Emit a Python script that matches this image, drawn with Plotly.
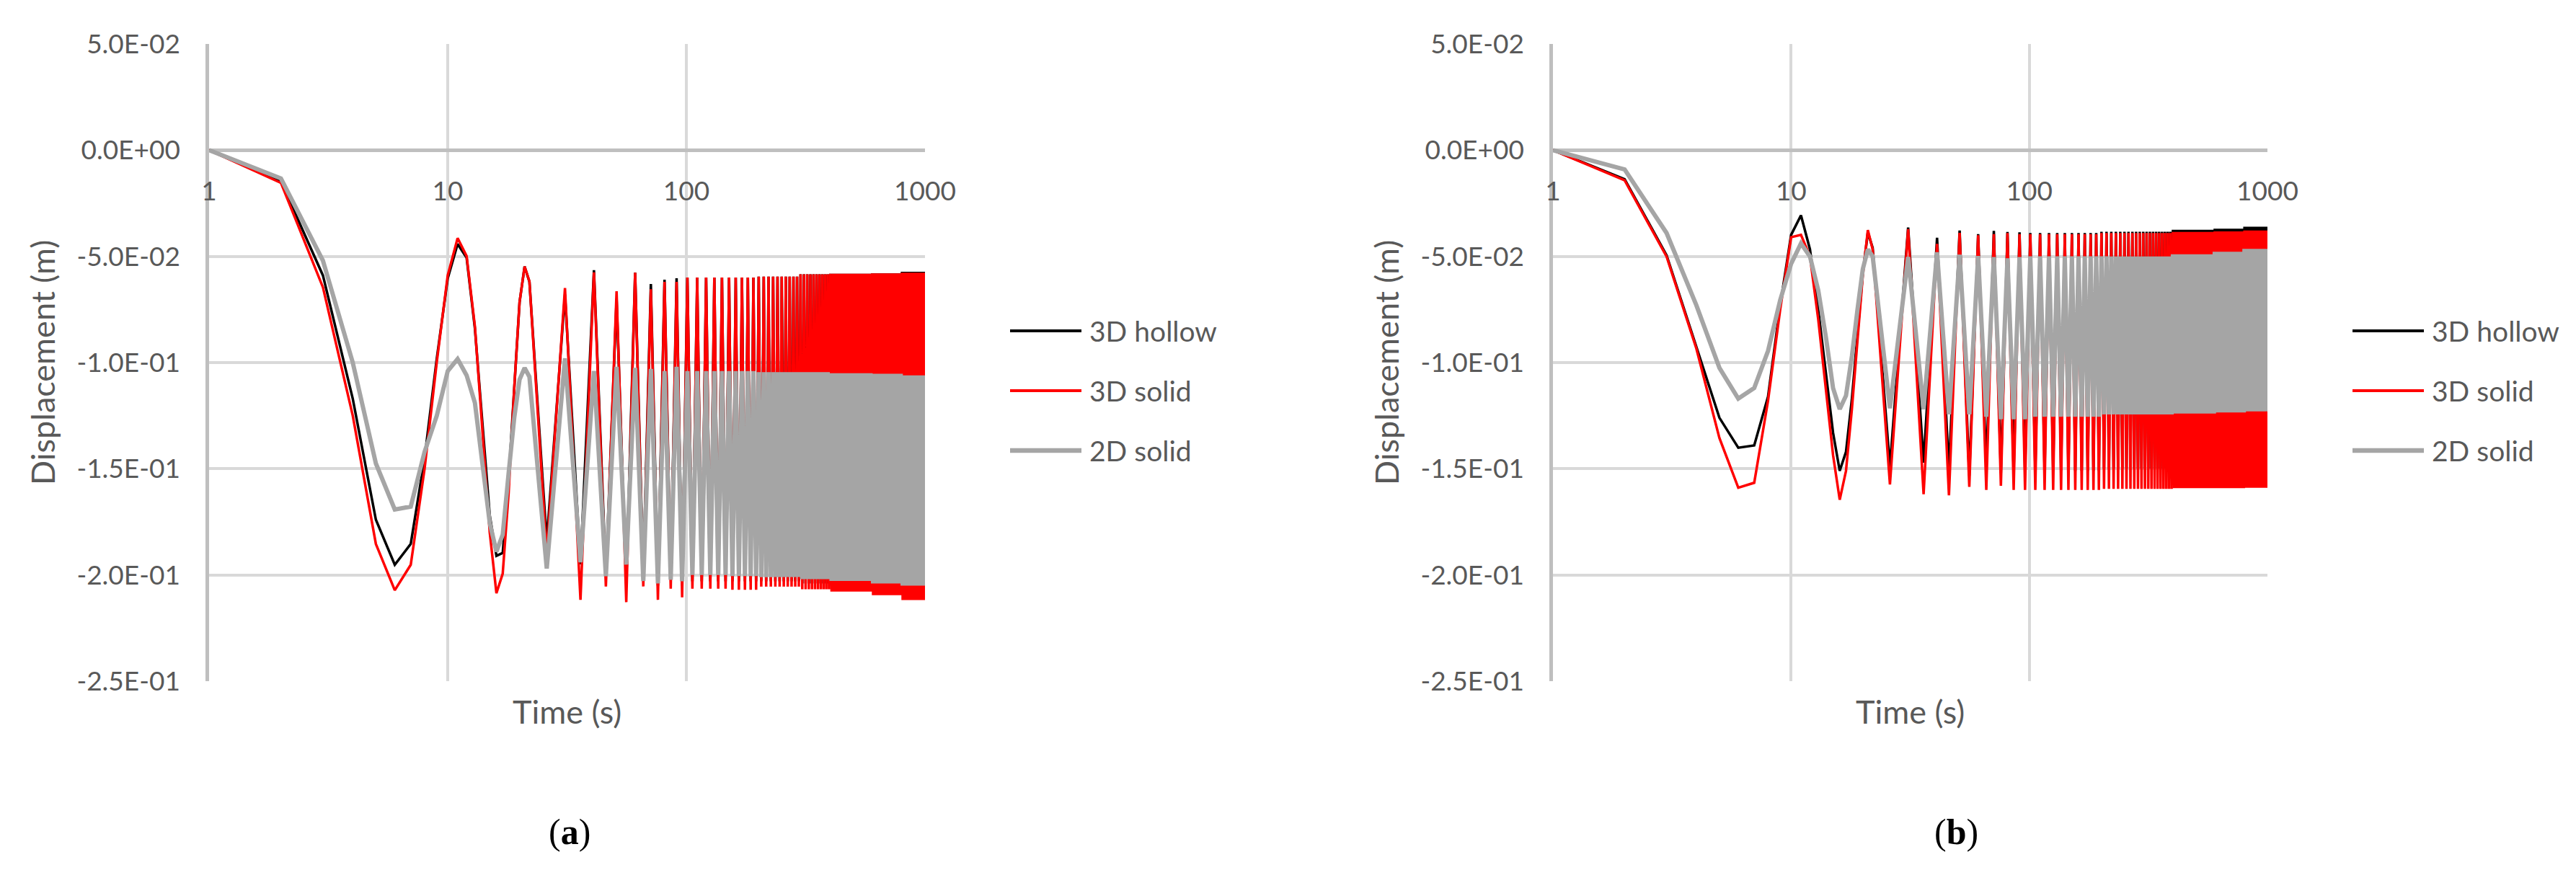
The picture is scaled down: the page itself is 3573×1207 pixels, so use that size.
import plotly.graph_objects as go

# ---------------- data ----------------
# first two cycles, one sample per second
t_early = list(range(1, 23))
# peak / trough instants of the cycles between 22 s and 100 s
t_peaks_mid = [31, 41, 51, 61, 71, 81, 91]
t_troughs_mid = [26, 36, 46, 56, 66, 76, 86, 96]
# after 100 s the cycles merge into a band; envelope read per time block
tail_blocks = [100, 150, 200, 300, 400, 600, 800, 1000]

# panel (a)
a_hollow_early = [0, -0.0147, -0.059, -0.117, -0.174, -0.1952, -0.1854, -0.145, -0.098, -0.0604, -0.0442,
                  -0.0506, -0.084, -0.130, -0.172, -0.191, -0.1896, -0.155, -0.110, -0.0716, -0.0548, -0.062]
a_hollow_troughs = [-0.184, -0.195, -0.200, -0.204, -0.200, -0.205, -0.202, -0.205]
a_hollow_peaks = [-0.068, -0.0565, -0.070, -0.0577, -0.063, -0.061, -0.0603]
a_hollow_top = [-0.0600, -0.0600, -0.0595, -0.0584, -0.0582, -0.0580, -0.0572]
a_hollow_bottom = [-0.203, -0.203, -0.203, -0.204, -0.205, -0.206, -0.208]

a_solid3d_early = [0, -0.0154, -0.0646, -0.125, -0.1854, -0.2072, -0.1952, -0.150, -0.0997, -0.059, -0.0414,
                   -0.0499, -0.083, -0.133, -0.180, -0.2086, -0.1994, -0.1615, -0.112, -0.0716, -0.0548, -0.0618]
a_solid3d_troughs = [-0.190, -0.2117, -0.2054, -0.2128, -0.2054, -0.2117, -0.2065, -0.2105]
a_solid3d_peaks = [-0.0649, -0.0575, -0.0664, -0.0577, -0.0655, -0.062, -0.062]
a_solid3d_top = [-0.0600, -0.0600, -0.0595, -0.0584, -0.0582, -0.0580, -0.0577]
a_solid3d_bottom = [-0.2065, -0.2070, -0.2055, -0.2067, -0.2078, -0.2095, -0.2118]

a_solid2d_early = [0, -0.0133, -0.052, -0.100, -0.1475, -0.1692, -0.1678, -0.142, -0.125, -0.104, -0.0983,
                   -0.106, -0.119, -0.149, -0.1755, -0.189, -0.181, -0.152, -0.126, -0.108, -0.1025, -0.1067]
a_solid2d_troughs = [-0.197, -0.194, -0.2006, -0.1951, -0.2029, -0.204, -0.2023, -0.203]
a_solid2d_peaks = [-0.098, -0.104, -0.102, -0.1025, -0.103, -0.104, -0.102]
a_solid2d_top = [-0.1040, -0.1040, -0.1045, -0.1045, -0.1050, -0.1053, -0.1060]
a_solid2d_bottom = [-0.2000, -0.2005, -0.2010, -0.2020, -0.2028, -0.2040, -0.2050]

# panel (b)
b_hollow_early = [0, -0.0137, -0.0495, -0.0923, -0.126, -0.1401, -0.139, -0.116, -0.073, -0.0399, -0.0307,
                  -0.0467, -0.075, -0.105, -0.133, -0.151, -0.142, -0.117, -0.088, -0.058, -0.0387, -0.046]
b_hollow_troughs = [-0.149, -0.1471, -0.1505, -0.1533, -0.150, -0.152, -0.151, -0.151]
b_hollow_peaks = [-0.0364, -0.0412, -0.0378, -0.0395, -0.038, -0.0385, -0.0387]
b_hollow_top = [-0.0390, -0.0390, -0.0384, -0.0384, -0.0375, -0.0370, -0.0360]
b_hollow_bottom = [-0.151, -0.151, -0.150, -0.150, -0.150, -0.149, -0.149]

b_solid3d_early = [0, -0.0142, -0.0501, -0.0934, -0.1355, -0.1589, -0.1566, -0.118, -0.075, -0.041, -0.0399,
                   -0.050, -0.0797, -0.1128, -0.1435, -0.1646, -0.151, -0.1218, -0.090, -0.059, -0.0376, -0.0467]
b_solid3d_troughs = [-0.1574, -0.162, -0.1625, -0.1585, -0.160, -0.158, -0.160, -0.160]
b_solid3d_peaks = [-0.0372, -0.0441, -0.0389, -0.040, -0.0395, -0.039, -0.0395]
b_solid3d_top = [-0.0395, -0.0395, -0.0390, -0.0390, -0.0385, -0.0382, -0.0378]
b_solid3d_bottom = [-0.1600, -0.1600, -0.1595, -0.1595, -0.1591, -0.1591, -0.1590]

b_solid2d_early = [0, -0.0091, -0.039, -0.073, -0.1025, -0.117, -0.112, -0.0945, -0.0706, -0.0535, -0.0439,
                   -0.050, -0.066, -0.088, -0.112, -0.1219, -0.1156, -0.097, -0.075, -0.056, -0.0467, -0.050]
b_solid2d_troughs = [-0.1215, -0.122, -0.1244, -0.1244, -0.1255, -0.1267, -0.1267, -0.1267]
b_solid2d_peaks = [-0.0503, -0.0481, -0.0492, -0.0498, -0.0503, -0.0509, -0.0503]
b_solid2d_top = [-0.0500, -0.0500, -0.0500, -0.0500, -0.0490, -0.0478, -0.0465]
b_solid2d_bottom = [-0.1255, -0.1255, -0.1244, -0.1244, -0.1240, -0.1235, -0.1230]

series_names = ["3D hollow", "3D solid", "2D solid"]
series_colors = ["#000000", "#FF0000", "#A5A5A5"]
series_widths = [3.5, 3.5, 6]

y_tickvals = [0.05, 0, -0.05, -0.1, -0.15, -0.2, -0.25]
y_ticktext = ["5.0E-02", "0.0E+00", "-5.0E-02", "-1.0E-01", "-1.5E-01", "-2.0E-01", "-2.5E-01"]
x_tickvals = [1, 10, 100, 1000]


def build_series(early, troughs, peaks, top, bottom):
    t = list(t_early)
    y = list(early)
    for i, tt in enumerate(t_troughs_mid):
        t.append(tt)
        y.append(troughs[i])
        if i < len(t_peaks_mid):
            t.append(t_peaks_mid[i])
            y.append(peaks[i])
    for p in range(101, 1000, 10):
        j = max(i for i in range(len(top)) if tail_blocks[i] <= p)
        t += [p, p + 5]
        y += [top[j], bottom[j]]
    return t, y


panels = [
    [(a_hollow_early, a_hollow_troughs, a_hollow_peaks, a_hollow_top, a_hollow_bottom),
     (a_solid3d_early, a_solid3d_troughs, a_solid3d_peaks, a_solid3d_top, a_solid3d_bottom),
     (a_solid2d_early, a_solid2d_troughs, a_solid2d_peaks, a_solid2d_top, a_solid2d_bottom)],
    [(b_hollow_early, b_hollow_troughs, b_hollow_peaks, b_hollow_top, b_hollow_bottom),
     (b_solid3d_early, b_solid3d_troughs, b_solid3d_peaks, b_solid3d_top, b_solid3d_bottom),
     (b_solid2d_early, b_solid2d_troughs, b_solid2d_peaks, b_solid2d_top, b_solid2d_bottom)],
]

W, H = 3573, 1207
x_domains = [[282 / W, 1275 / W], [2146 / W, 3137 / W]]
y_domain = [1 - 937 / H, 1 - 53 / H]
captions = ["a", "b"]
caption_x = [782 / W, 2705 / W]

font_fam = "Lato, 'Open Sans', sans-serif"
grey_txt = "#595959"

fig = go.Figure()
annotations = []
shapes = []

for k, panel in enumerate(panels):
    xa = "x" if k == 0 else "x2"
    ya = "y" if k == 0 else "y2"
    for s, args in enumerate(panel):
        t, y = build_series(*args)
        fig.add_trace(go.Scatter(x=t, y=y, mode="lines", name=series_names[s], xaxis=xa, yaxis=ya,
                                 line=dict(color=series_colors[s], width=series_widths[s]),
                                 showlegend=False))

    d0, d1 = x_domains[k]
    zero_pos = y_domain[0] + (0 - (-0.25)) / 0.30 * (y_domain[1] - y_domain[0])
    xaxis = dict(type="log", domain=x_domains[k], range=[0, 3], tickvals=x_tickvals,
                 ticktext=[str(v) for v in x_tickvals], anchor="free", position=zero_pos,
                 showgrid=True, gridcolor="#D9D9D9", gridwidth=3.5, showline=False, zeroline=False,
                 ticks="", ticklabelstandoff=32, automargin=False,
                 tickfont=dict(family=font_fam, size=37, color=grey_txt))
    yaxis = dict(domain=y_domain, range=[-0.25, 0.05], tickvals=y_tickvals, ticktext=y_ticktext,
                 anchor=xa, showgrid=True, gridcolor="#D9D9D9", gridwidth=3.5,
                 zeroline=True, zerolinecolor="#BFBFBF", zerolinewidth=4.5,
                 showline=True, linecolor="#BFBFBF", linewidth=4.5, ticks="", ticklabelstandoff=28,
                 automargin=False, tickfont=dict(family=font_fam, size=37, color=grey_txt))
    if k == 0:
        fig.update_layout(xaxis=xaxis, yaxis=yaxis)
    else:
        fig.update_layout(xaxis2=xaxis, yaxis2=yaxis)

    # axis titles
    annotations.append(dict(text="Displacement (m)", xref="paper", yref="paper",
                            x=d0 - 231 / W, y=(y_domain[0] + y_domain[1]) / 2, textangle=-90,
                            xanchor="center", yanchor="middle", showarrow=False,
                            font=dict(family=font_fam, size=45, color=grey_txt)))
    annotations.append(dict(text="Time (s)", xref="paper", yref="paper",
                            x=(d0 + d1) / 2, y=1 - 979 / H, xanchor="center", yanchor="middle",
                            showarrow=False, font=dict(family=font_fam, size=45, color=grey_txt)))
    # caption
    annotations.append(dict(text="(<b>" + captions[k] + "</b>)", xref="paper", yref="paper",
                            x=caption_x[k], y=1 - 1146 / H, xanchor="center", yanchor="middle",
                            showarrow=False,
                            font=dict(family="'Liberation Serif', 'Times New Roman', serif",
                                      size=50, color="#000000")))

    # legend drawn by hand to keep the long line samples of the source
    leg_x0 = d1 + 118 / W
    leg_x1 = d1 + 217 / W
    for s, name in enumerate(series_names):
        ly = 1 - (451 + 83 * s) / H
        shapes.append(dict(type="line", xref="paper", yref="paper", x0=leg_x0, x1=leg_x1, y0=ly, y1=ly,
                           line=dict(color=series_colors[s], width=series_widths[s] + 0.5)))
        annotations.append(dict(text=name, xref="paper", yref="paper", x=leg_x1 + 9 / W, y=ly,
                                xanchor="left", yanchor="middle", showarrow=False,
                                font=dict(family=font_fam, size=39, color=grey_txt)))

fig.update_layout(width=W, height=H, margin=dict(l=0, r=0, t=0, b=0),
                  paper_bgcolor="white", plot_bgcolor="white", showlegend=False,
                  annotations=annotations, shapes=shapes)

fig.write_html("out.html")
